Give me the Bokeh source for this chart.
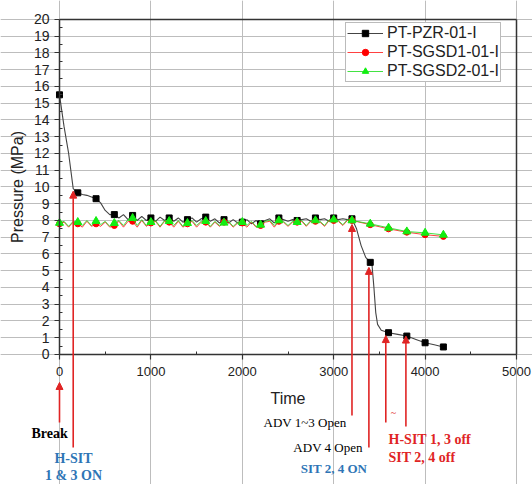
from bokeh.plotting import figure
from bokeh.models import (Range1d, LinearAxis, Grid, FixedTicker, Arrow, NormalHead, Label,
                          Legend, LegendItem, ColumnDataSource)
from bokeh.embed import file_html
from bokeh.resources import INLINE

# ---------------- data ----------------
t_main = list(range(0, 3201, 50))

pzr_main = [15.5, 13.6, 12.0, 9.9, 9.65, 9.55, 9.5, 9.4, 9.3, 9.05, 8.6, 8.35,
            8.35, 8.15, 8.35, 8.05, 8.3, 8.0, 8.25, 8.0, 8.15, 7.95, 8.2, 8.0,
            8.15, 7.95, 8.15, 7.9, 8.05, 8.15, 7.9, 8.1, 8.2, 7.95, 8.1, 7.85,
            8.05, 7.85, 8.05, 7.85, 7.9, 8.05, 7.8, 8.0, 7.8, 8.0, 8.1, 7.85,
            8.15, 8.05, 7.95, 8.05, 8.0, 8.05, 8.1, 7.95, 8.15, 8.05, 8.1, 7.95,
            8.15, 8.05, 8.1, 8.05, 8.1]
pzr_tail_t = [3250, 3300, 3350, 3400, 3420, 3440, 3460, 3480, 3520, 3600, 3700, 3800, 3900, 4000, 4100, 4200]
pzr_tail = [7.5, 6.5, 5.8, 5.5, 5.3, 4.0, 2.5, 1.8, 1.45, 1.3, 1.2, 1.1, 0.9, 0.7, 0.58, 0.45]

sgsd1_main = [7.8, 7.9, 7.6, 7.9, 7.8, 7.6, 7.95, 7.65, 7.8, 7.65, 7.9, 7.6,
              7.7, 7.95, 7.6, 7.95, 7.95, 7.6, 8.0, 7.65, 7.85, 7.95, 7.6, 7.95,
              7.9, 7.6, 7.95, 7.6, 7.8, 7.95, 7.6, 7.9, 7.9, 7.6, 7.9, 7.65,
              7.9, 7.9, 7.6, 7.85, 7.85, 7.6, 7.9, 7.6, 7.7, 7.9, 7.95, 7.6,
              7.95, 7.9, 7.65, 7.9, 7.9, 7.95, 7.65, 7.95, 7.95, 7.9, 7.65, 8.0,
              8.0, 7.95, 7.7, 8.0, 8.0]
sgsd_tail_t = [3400, 3600, 3800, 4000, 4200]
sgsd1_tail = [7.75, 7.5, 7.3, 7.15, 7.05]

sgsd2_main = [7.85, 7.95, 7.65, 7.95, 7.9, 7.7, 8.0, 7.7, 7.96, 7.75, 7.95, 7.65,
              7.84, 8.0, 7.7, 8.05, 8.14, 7.7, 8.05, 7.7, 7.9, 8.0, 7.65, 8.0,
              7.96, 7.7, 8.0, 7.65, 7.84, 8.0, 7.7, 7.95, 7.96, 7.65, 7.95, 7.7,
              7.86, 7.95, 7.65, 7.9, 7.9, 7.7, 7.95, 7.65, 7.74, 7.95, 8.0, 7.7,
              8.0, 7.95, 7.7, 7.95, 7.9, 8.0, 7.7, 8.0, 8.0, 7.95, 7.7, 8.05,
              8.05, 8.0, 7.75, 8.05, 8.0]
sgsd2_tail = [7.8, 7.56, 7.34, 7.26, 7.14]

series_names = ["PT-PZR-01-I", "PT-SGSD1-01-I", "PT-SGSD2-01-I"]
marker_every = 200

x_ticks = [0, 1000, 2000, 3000, 4000, 5000]
x_minor = [500, 1500, 2500, 3500, 4500]
y_ticks = list(range(0, 21))
y_minor = [v + 0.5 for v in range(0, 20)]

# event annotations: (x, y_bottom, y_tip)
ev_x = [0, 150, 3200, 3385, 3570, 3790]
ev_y0 = [-4.06, -5.55, -3.64, -5.55, -4.06, -4.3]
ev_y1 = [-1.67, 9.75, 7.76, 5.2, 1.13, 1.1]

RED = "#e02424"
BLUE = "#2e75b6"

# ---------------- figure ----------------
X0, X1 = -645.5, 5175
Y0, Y1 = -7.76, 21.13
p = figure(width=532, height=484, output_backend="svg", toolbar_location=None,
           x_axis_location=None, y_axis_location=None, min_border=0,
           x_range=Range1d(X0, X1), y_range=Range1d(Y0, Y1))
p.outline_line_color = None

AX = "#333333"

def style_axis(ax, size):
    ax.axis_line_color = AX
    ax.axis_line_width = 1.5
    ax.major_tick_line_color = AX
    ax.major_tick_line_width = 1.2
    ax.minor_tick_line_color = AX
    ax.major_tick_out = 5
    ax.major_tick_in = 0
    ax.minor_tick_in = 3
    ax.minor_tick_out = 0
    ax.major_label_text_font = "Liberation Sans"
    ax.major_label_text_font_size = size
    ax.major_label_text_color = "#222222"
    ax.axis_label_text_font = "Liberation Sans"
    ax.axis_label_text_font_size = "16px"
    ax.axis_label_text_font_style = "normal"
    ax.axis_label_text_color = "#222222"

xaxis = LinearAxis(fixed_location=0, bounds=(0, 5000),
                   ticker=FixedTicker(ticks=x_ticks, minor_ticks=x_minor), axis_label="Time")
style_axis(xaxis, "13px")
xaxis.major_label_standoff = 8
xaxis.axis_label_standoff = 10
yaxis = LinearAxis(fixed_location=0, bounds=(0, 20),
                   ticker=FixedTicker(ticks=y_ticks, minor_ticks=y_minor), axis_label="Pressure (MPa)")
style_axis(yaxis, "14px")
p.add_layout(xaxis, "below")
p.add_layout(yaxis, "left")

# frame border (top and right) drawn as plain axis lines without ticks
top = LinearAxis(fixed_location=20, bounds=(0, 5000), ticker=FixedTicker(ticks=[]))
right = LinearAxis(fixed_location=5000, bounds=(0, 20), ticker=FixedTicker(ticks=[]))
for a in (top, right):
    a.axis_line_color = AX
    a.axis_line_width = 1.5
    a.major_tick_line_color = None
    a.minor_tick_line_color = None
p.add_layout(top, "below")
p.add_layout(right, "left")

GRID = "#bdbdbd"
xg = Grid(dimension=0, ticker=FixedTicker(ticks=x_ticks), bounds=(0, 20),
          grid_line_color=GRID, grid_line_width=1)
yg = Grid(dimension=1, ticker=FixedTicker(ticks=y_ticks), bounds=(0, 5000),
          grid_line_color=GRID, grid_line_width=1)
p.add_layout(xg)
p.add_layout(yg)

# ---------------- series ----------------
def build(main, tail_t, tail):
    t = t_main + tail_t
    v = main + tail
    mt = [a for a in t if a % marker_every == 0]
    mv = [b for a, b in zip(t, v) if a % marker_every == 0]
    return ColumnDataSource(dict(t=t, v=v)), ColumnDataSource(dict(t=mt, v=mv))

s_pzr, m_pzr = build(pzr_main, pzr_tail_t, pzr_tail)
s_1, m_1 = build(sgsd1_main, sgsd_tail_t, sgsd1_tail)
s_2, m_2 = build(sgsd2_main, sgsd_tail_t, sgsd2_tail)

l0 = p.line("t", "v", source=s_pzr, line_color="#444444", line_width=1.1)
k0 = p.scatter("t", "v", source=m_pzr, marker="square", size=6, fill_color="black", line_color="black")
l1 = p.line("t", "v", source=s_1, line_color="#ff2020", line_width=1.0, line_alpha=0.85)
k1 = p.scatter("t", "v", source=m_1, marker="circle", size=6, fill_color="#ff0000", line_color="#ff0000")
l2 = p.line("t", "v", source=s_2, line_color="#22dd22", line_width=1.0, line_alpha=0.85)
k2 = p.scatter("t", "v", source=m_2, marker="triangle", size=8, fill_color="#11ee11", line_color="#11ee11")

legend = Legend(items=[LegendItem(label=series_names[0], renderers=[l0, k0]),
                       LegendItem(label=series_names[1], renderers=[l1, k1]),
                       LegendItem(label=series_names[2], renderers=[l2, k2])],
                location=(345, 402))
legend.label_text_font = "Liberation Sans"
legend.label_text_font_size = "16px"
legend.label_text_color = "#222222"
legend.glyph_width = 36
legend.glyph_height = 16
legend.label_height = 18
legend.label_standoff = 4
legend.spacing = 1
legend.padding = 1
legend.margin = 0
legend.border_line_color = "#777777"
legend.border_line_width = 1
legend.background_fill_alpha = 1
p.add_layout(legend)

# ---------------- event arrows & notes ----------------
arr_src = ColumnDataSource(dict(x0=ev_x, y0=ev_y0, x1=ev_x, y1=ev_y1))
p.add_layout(Arrow(source=arr_src, x_start="x0", y_start="y0", x_end="x1", y_end="y1",
                   line_color=RED, line_width=1.6,
                   end=NormalHead(size=7, fill_color=RED, line_color=RED)))

notes = [
    ("Break", -109, -4.72, "black", "bold", "center", "14px"),
    ("H-SIT", 153, -6.2, BLUE, "bold", "center", "14px"),
    ("1 & 3 ON", 153, -7.22, BLUE, "bold", "center", "14px"),
    ("ADV 1~3 Open", 2686, -4.06, "black", "normal", "center", "13px"),
    ("ADV 4 Open", 2938, -5.55, "black", "normal", "center", "13px"),
    ("SIT 2, 4 ON", 3003, -6.8, BLUE, "bold", "center", "13px"),
    ("~", 3654, -3.46, RED, "normal", "center", "10px"),
    ("H-SIT 1, 3 off", 3600, -5.07, RED, "bold", "left", "14px"),
    ("SIT 2, 4 off", 3600, -6.15, RED, "bold", "left", "14px"),
]
for txt, x, y, col, style, align, size in notes:
    p.add_layout(Label(x=x, y=y, text=txt, text_color=col, text_font="Liberation Serif",
                       text_font_style=style, text_align=align, text_baseline="middle",
                       text_font_size=size))

open("out.html", "w").write(file_html(p, INLINE))
